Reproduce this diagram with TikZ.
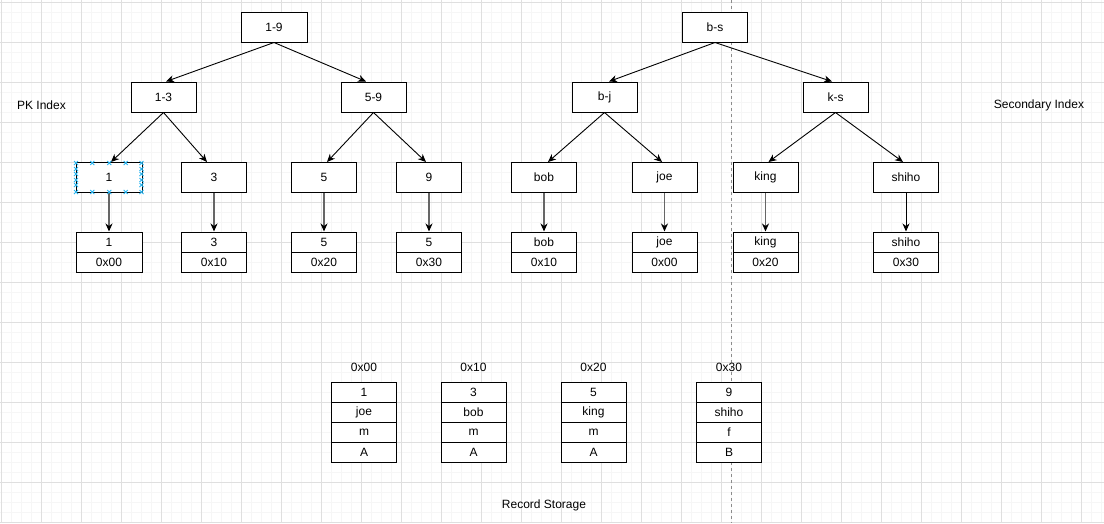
\documentclass[tikz,border=0pt]{standalone}
\usepackage{fontspec}
\setmainfont{Liberation Sans}
\usetikzlibrary{arrows.meta}
\definecolor{gridmajor}{HTML}{DFDFDF}
\definecolor{gridminor}{HTML}{F6F6F6}
\definecolor{selblue}{HTML}{29B6F2}
\tikzset{
  box/.style={draw=black, fill=white, line width=1pt, minimum width=65pt, minimum height=30pt, inner sep=0pt, font=\fontsize{12}{14}\selectfont},
  cell/.style={draw=black, fill=white, line width=1pt, minimum width=65pt, minimum height=20pt, inner sep=0pt, font=\fontsize{12}{14}\selectfont},
  lbl/.style={inner sep=0pt, font=\fontsize{12}{14}\selectfont},
  edge/.style={draw=black, line width=0.9pt, -{Stealth[length=8pt,width=7pt,inset=2.5pt]}},
  vedge/.style={draw=black!60, line width=1.8pt, -{Stealth[length=8pt,width=7pt,inset=2.5pt,black]}},
  vedgeb/.style={draw=black, line width=1pt, -{Stealth[length=8pt,width=7pt,inset=2.5pt]}},
  selmark/.style={draw=selblue, line width=0.9pt}
}
\begin{document}
\begin{tikzpicture}[x=1pt,y=-1pt]
\useasboundingbox (0,0) rectangle (1104,523);
\fill[white] (0,0) rectangle (1104,523);
% grid
\foreach \i in {0,...,110} {\draw[gridminor, line width=1pt] ({1.3+10*\i},0) -- ({1.3+10*\i},523);}
\foreach \j in {0,...,52} {\draw[gridminor, line width=1pt] (0,{2.6+10*\j}) -- (1104,{2.6+10*\j});}
\foreach \i in {0,...,27} {\draw[gridmajor, line width=1pt] ({1.3+40*\i},0) -- ({1.3+40*\i},523);}
\foreach \j in {0,...,13} {\draw[gridmajor, line width=1pt] (0,{2.6+40*\j}) -- (1104,{2.6+40*\j});}
% dashed divider
\coordinate (dtop) at (731.5,0);
\coordinate (dbot) at (731.5,523);
\draw[black!45, line width=0.8pt, dash pattern=on 3pt off 3pt] (dtop) -- (dbot);

% PK tree
\node[box, minimum width=66pt] (n19) at (274,27) {1-9};
\node[box] (n13) at (163.5,97) {1-3};
\node[box] (n59) at (373.5,97) {5-9};
\node[box, minimum width=66pt] (l1) at (109,177.5) {1};
\node[box] (l3) at (214,177.5) {3};
\node[box] (l5) at (324,177.5) {5};
\node[box] (l9) at (429,177.5) {9};
\node[cell, minimum width=66pt] (p1a) at (109,242) {1};
\node[cell, minimum width=66pt] (p1b) at (109,262) {0x00};
\node[cell] (p3a) at (214,242) {3};
\node[cell] (p3b) at (214,262) {0x10};
\node[cell] (p5a) at (324,242) {5};
\node[cell] (p5b) at (324,262) {0x20};
\node[cell] (p9a) at (429,242) {5};
\node[cell] (p9b) at (429,262) {0x30};

% Secondary tree
\node[box] (bs) at (715,27) {b-s};
\node[box] (bj) at (604.5,97) {b-j};
\node[box] (ks) at (835.5,97) {k-s};
\node[box] (bob) at (544,177.5) {bob};
\node[box] (joe) at (664.5,177.5) {joe};
\node[box] (king) at (765.5,177.5) {king};
\node[box] (shiho) at (906,177.5) {shiho};
\node[cell] (sba) at (544,242) {bob};
\node[cell] (sbb) at (544,262) {0x10};
\node[cell] (sja) at (664.5,242) {joe};
\node[cell] (sjb) at (664.5,262) {0x00};
\node[cell] (ska) at (765.5,242) {king};
\node[cell] (skb) at (765.5,262) {0x20};
\node[cell] (ssa) at (906,242) {shiho};
\node[cell] (ssb) at (906,262) {0x30};

% tree edges
\draw[edge] (n19.south) -- ([xshift=2.5pt]n13.north);
\draw[edge] (n19.south) -- ([xshift=-7.5pt]n59.north);
\draw[edge] (n13.south) -- ([xshift=2pt]l1.north);
\draw[edge] (n13.south) -- ([xshift=-7pt]l3.north);
\draw[edge] (n59.south) -- ([xshift=3pt]l5.north);
\draw[edge] (n59.south) -- ([xshift=-3pt]l9.north);
\draw[edge] (bs.south) -- ([xshift=4.5pt]bj.north);
\draw[edge] (bs.south) -- ([xshift=-3.5pt]ks.north);
\draw[edge] (bj.south) -- ([xshift=4pt]bob.north);
\draw[edge] (bj.south) -- ([xshift=-2.5pt]joe.north);
\draw[edge] (ks.south) -- ([xshift=3pt]king.north);
\draw[edge] (ks.south) -- ([xshift=-3pt]shiho.north);

% vertical edges
\draw[vedge] (l1.south) -- (p1a.north);
\draw[vedge] (l3.south) -- (p3a.north);
\draw[vedge] (l5.south) -- (p5a.north);
\draw[vedge] (l9.south) -- (p9a.north);
\draw[vedge] (bob.south) -- (sba.north);
\draw[vedge] (joe.south) -- (sja.north);
\draw[vedge] (king.south) -- (ska.north);
\draw[vedgeb] (shiho.south) -- (ssa.north);

% selection markers on leaf 1
\foreach \mx in {76,92.3,109.3,125.7,141.5} {
  \foreach \my in {163,192} {
    \draw[selmark] (\mx-2,\my-2) -- (\mx+2,\my+2) (\mx-2,\my+2) -- (\mx+2,\my-2);
  }
}
\foreach \mx in {76,141.5} {
  \foreach \my in {169,174,180,185} {
    \draw[selmark] (\mx-2,\my-2) -- (\mx+2,\my+2) (\mx-2,\my+2) -- (\mx+2,\my-2);
  }
}

% side labels
\node[lbl] (pk) at (41.5,105) {PK Index};
\node[lbl] (sec) at (1039,105) {Secondary Index};

% record storage
\node[lbl] (h1) at (364,367) {0x00};
\node[lbl] (h2) at (473.5,367) {0x10};
\node[lbl] (h3) at (593.5,367) {0x20};
\node[lbl] (h4) at (729,367) {0x30};
\node[cell] (ra1) at (364,392) {1};
\node[cell] (ra2) at (364,412) {joe};
\node[cell] (ra3) at (364,432) {m};
\node[cell] (ra4) at (364,452) {A};
\node[cell] (rb1) at (473.5,392) {3};
\node[cell] (rb2) at (473.5,412) {bob};
\node[cell] (rb3) at (473.5,432) {m};
\node[cell] (rb4) at (473.5,452) {A};
\node[cell] (rc1) at (593.5,392) {5};
\node[cell] (rc2) at (593.5,412) {king};
\node[cell] (rc3) at (593.5,432) {m};
\node[cell] (rc4) at (593.5,452) {A};
\node[cell] (rd1) at (729,392) {9};
\node[cell] (rd2) at (729,412) {shiho};
\node[cell] (rd3) at (729,432) {f};
\node[cell] (rd4) at (729,452) {B};
\node[lbl] (rs) at (544,505) {Record Storage};
\end{tikzpicture}
\end{document}
